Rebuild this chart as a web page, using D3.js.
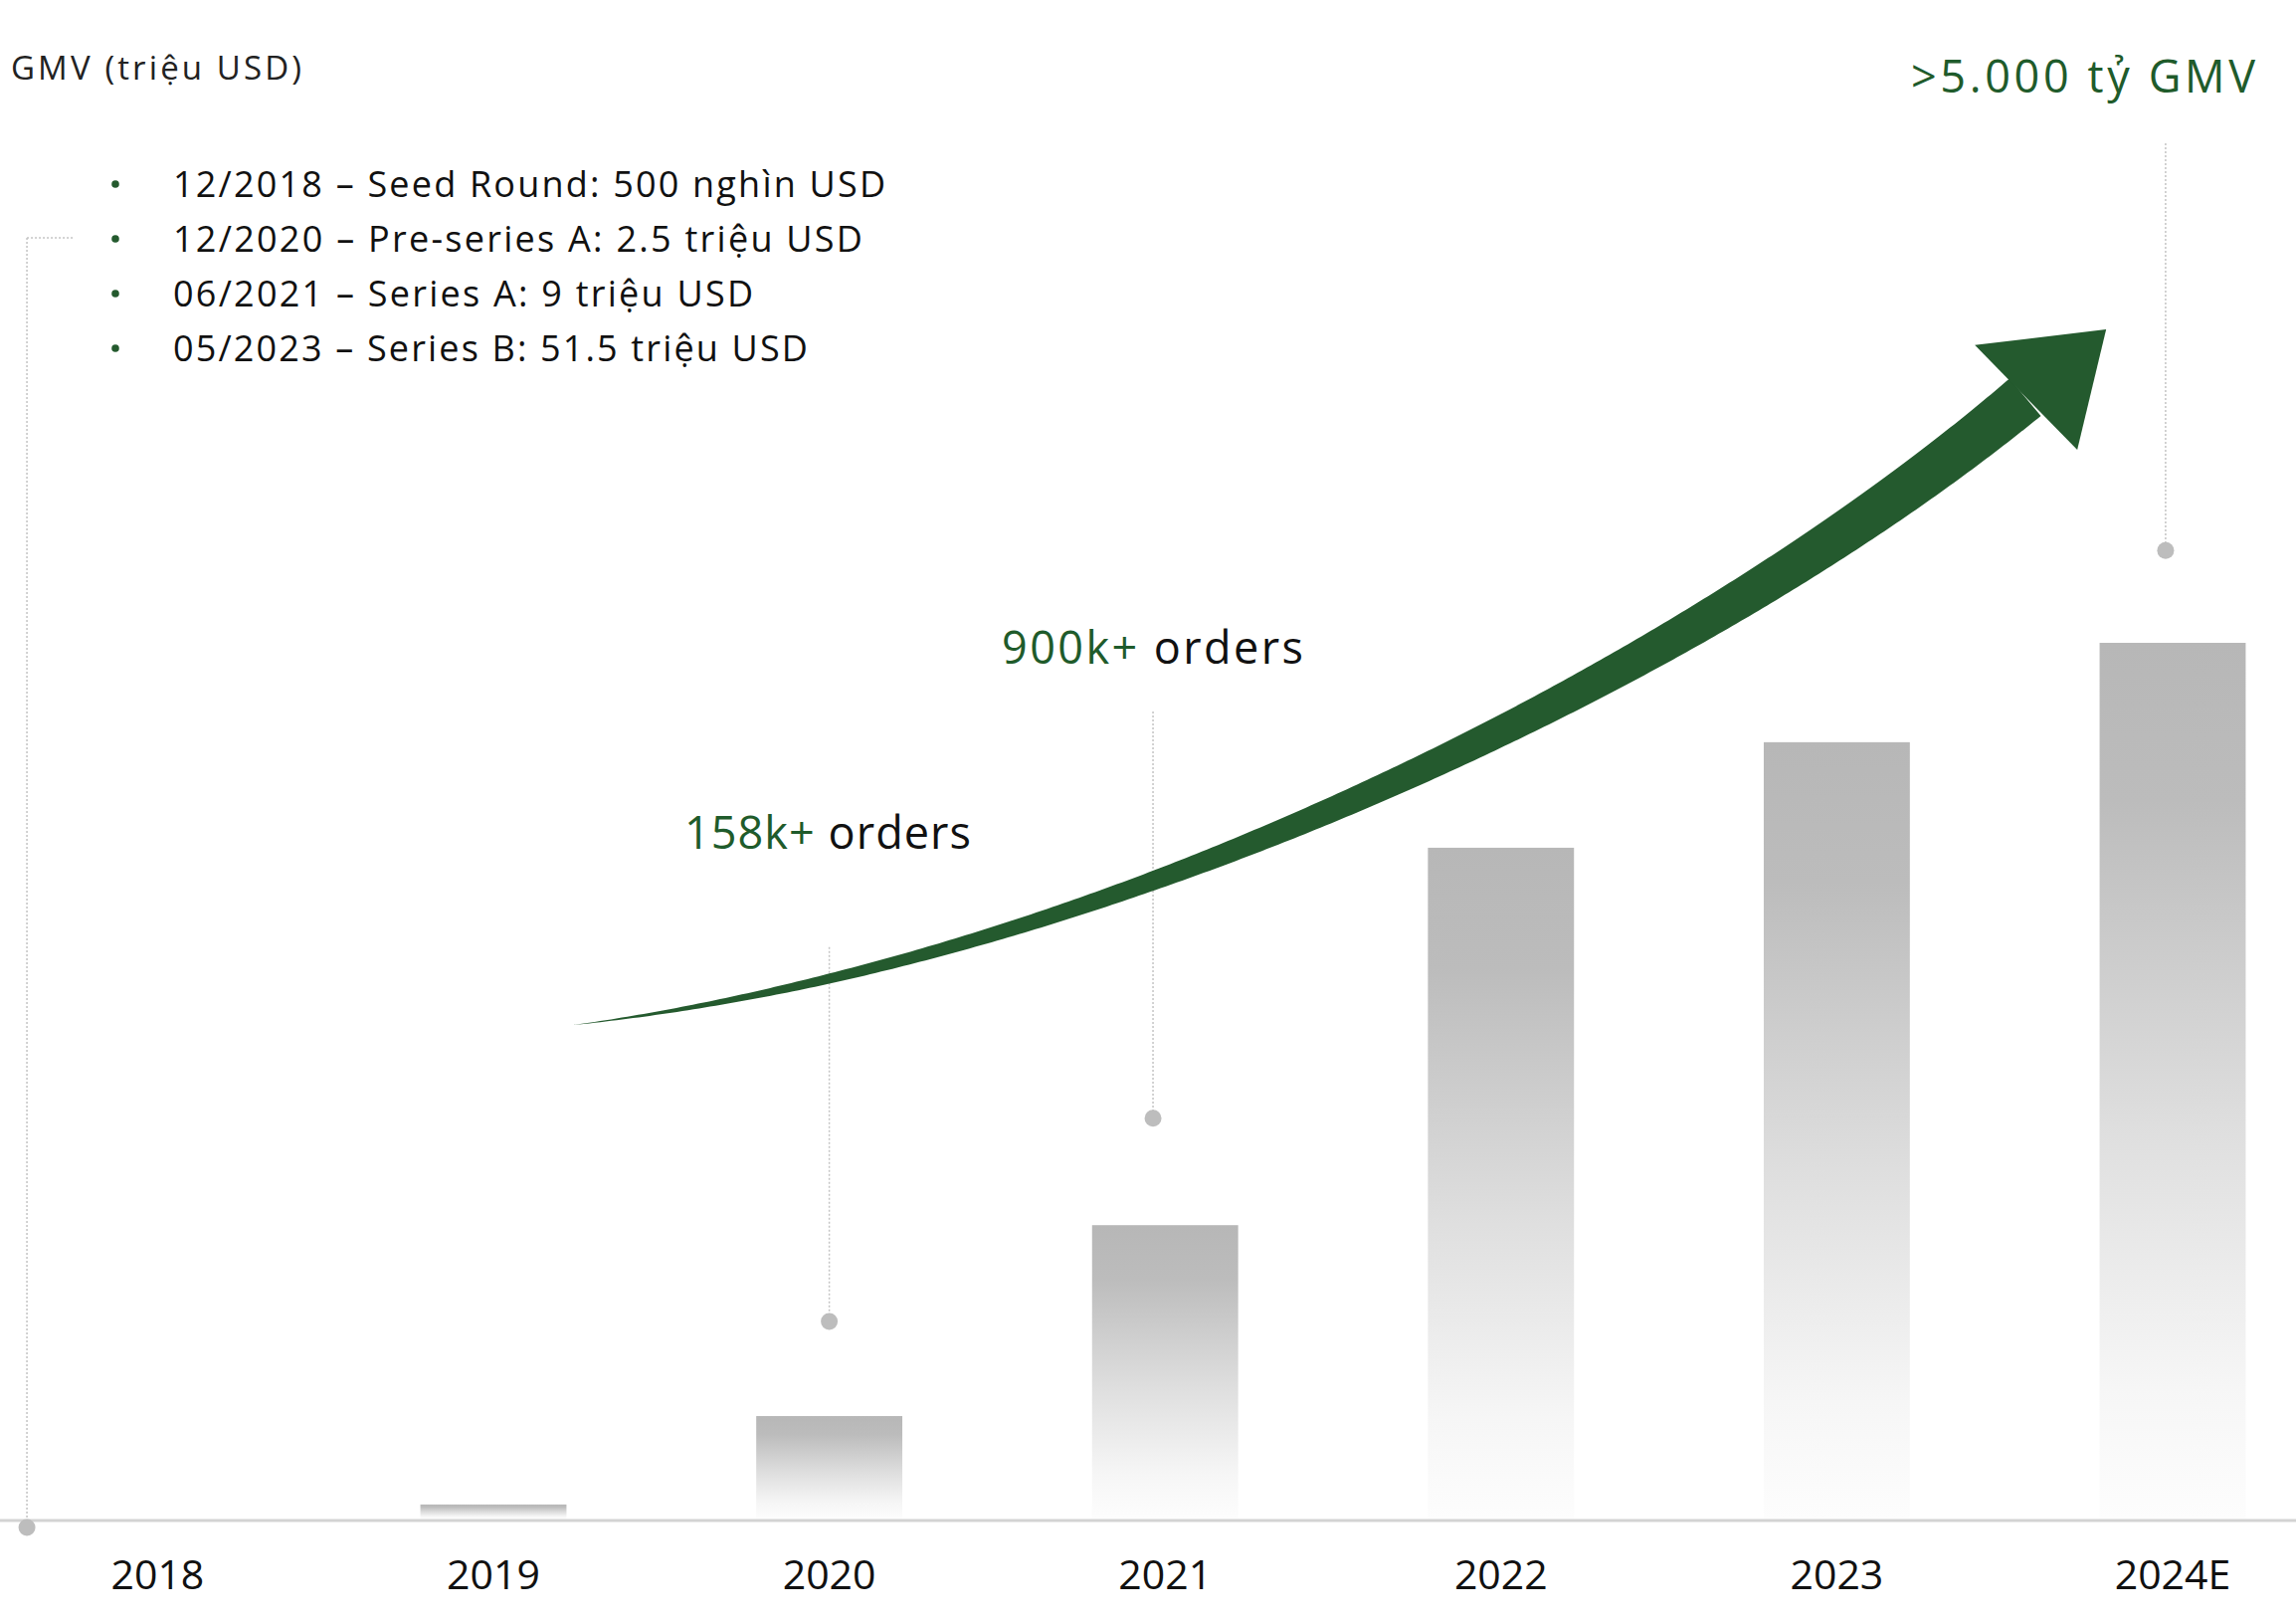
<!DOCTYPE html>
<html><head><meta charset="utf-8">
<script src="https://cdn.jsdelivr.net/npm/d3@7"></script>
<style>html,body{margin:0;padding:0;background:#fff;} svg{display:block}</style>
</head><body>
<svg id="chart" width="2308" height="1630"></svg>
<script>
// ---------- data ----------
const categories = ["2018", "2019", "2020", "2021", "2022", "2023", "2024E"];
const gmvValues = [0, 3.2, 23.4, 67, 153.2, 177.3, 200];
const yAxisTitle = "GMV (triệu USD)";
const fundingRounds = [
  "12/2018 – Seed Round: 500 nghìn USD",
  "12/2020 – Pre-series A: 2.5 triệu USD",
  "06/2021 – Series A: 9 triệu USD",
  "05/2023 – Series B: 51.5 triệu USD"
];
const orderNumbers = ["158k+", "900k+"];
const orderWords = [" orders", " orders"];
const headline = ">5.000 tỷ GMV";
// callout leaders in (category index, value) space
const leaderIndex = [-0.389, 2.0, 2.964, 5.979];
const leaderTop = [292.5, 130.5, 184.3, 314.1];
const leaderDot = [-2.05, 45, 91.4, 221.1];
// growth arrow: cubic Bezier spine in (category index, value) space
const arrowCtrlIdx = [1.237, 2.854, 4.608, 5.561];
const arrowCtrlVal = [112.7, 127.7, 194.8, 256.1];
const arrowWidthIdx = [1.237, 2.001, 2.961, 3.974, 4.714, 5.561];
const arrowWidthPx = [0, 10, 19, 30, 39, 49];
const arrowHeadIdx = [5.411, 5.802, 5.716];
const arrowHeadVal = [268.0, 271.6, 244.1];

// ---------- setup ----------
const W = 2308, H = 1630;
const GREEN = "#245a2e", TEXT_GREEN = "#1f5b2b";
const FONT = "'Open Sans', Lato, sans-serif";
const svg = d3.select("#chart");
svg.append("rect").attr("width", W).attr("height", H).attr("fill", "#fff");

const x = d3.scaleBand().domain(categories).range([-10.4, 2352.8])
  .paddingInner(0.565).paddingOuter(0.2825);
const xIdx = d3.scaleLinear().domain([0, categories.length - 1])
  .range([x(categories[0]) + x.bandwidth() / 2, x(categories[categories.length - 1]) + x.bandwidth() / 2]);
const y = d3.scaleLinear().domain([0, 200]).range([1526, 646]);

function fit(sel, target) {
  const n = sel.node();
  const w = n.getComputedTextLength();
  const chars = n.textContent.length;
  if (chars > 1) sel.attr("letter-spacing", ((target - w) / (chars - 1)).toFixed(3));
  return sel;
}

// gradient
const defs = svg.append("defs");
const grad = defs.append("linearGradient").attr("id", "barGrad")
  .attr("x1", 0).attr("y1", 0).attr("x2", 0).attr("y2", 1);
[[0, "#b7b7b7"], [0.18, "#bcbcbc"], [0.55, "#dedede"], [0.85, "#f6f6f6"], [1, "#fdfdfd"]]
  .forEach(([o, c]) => grad.append("stop").attr("offset", o).attr("stop-color", c));

// bars
svg.append("g").selectAll("rect").data(categories.map((c, i) => ({c, v: gmvValues[i]})).filter(d => d.v > 0))
  .join("rect")
  .attr("x", d => x(d.c)).attr("width", x.bandwidth())
  .attr("y", d => y(d.v)).attr("height", d => y(0) - y(d.v))
  .attr("fill", "url(#barGrad)");

// baseline axis
const xAxis = d3.axisBottom(x).tickSize(0).tickPadding(0);
const gx = svg.append("g").attr("transform", `translate(0,${y(0) + 2})`).call(xAxis);
gx.select(".domain").attr("d", `M0,0H${W}`).attr("stroke", "#d3d3d3").attr("stroke-width", 3);
gx.selectAll(".tick text").attr("y", 69).attr("dy", 0)
  .attr("font-family", FONT).attr("font-size", 41).attr("fill", "#111");

// leaders
const leaders = svg.append("g");
leaderIndex.forEach((li, i) => {
  const lx = xIdx(li);
  leaders.append("line").attr("x1", lx).attr("x2", lx)
    .attr("y1", y(leaderTop[i])).attr("y2", y(leaderDot[i]))
    .attr("stroke", "#c4c4c4").attr("stroke-width", 1.5).attr("stroke-dasharray", "2,2");
  leaders.append("circle").attr("cx", lx).attr("cy", y(leaderDot[i])).attr("r", 8.5).attr("fill", "#bdbdbd");
});
leaders.append("line").attr("x1", xIdx(leaderIndex[0])).attr("x2", xIdx(leaderIndex[0]) + 46)
  .attr("y1", y(leaderTop[0])).attr("y2", y(leaderTop[0]))
  .attr("stroke", "#c4c4c4").attr("stroke-width", 1.5).attr("stroke-dasharray", "2,2");

// arrow
const cp = arrowCtrlIdx.map((v, i) => [xIdx(v), y(arrowCtrlVal[i])]);
const bez = (t) => {
  const u = 1 - t;
  const a = u * u * u, b = 3 * u * u * t, c = 3 * u * t * t, d = t * t * t;
  return [a * cp[0][0] + b * cp[1][0] + c * cp[2][0] + d * cp[3][0],
          a * cp[0][1] + b * cp[1][1] + c * cp[2][1] + d * cp[3][1]];
};
const bezD = (t) => {
  const u = 1 - t;
  const dx = 3 * u * u * (cp[1][0] - cp[0][0]) + 6 * u * t * (cp[2][0] - cp[1][0]) + 3 * t * t * (cp[3][0] - cp[2][0]);
  const dy = 3 * u * u * (cp[1][1] - cp[0][1]) + 6 * u * t * (cp[2][1] - cp[1][1]) + 3 * t * t * (cp[3][1] - cp[2][1]);
  const m = Math.hypot(dx, dy) || 1;
  return [dx / m, dy / m];
};
const widthAt = d3.scaleLinear().domain(arrowWidthIdx.map(v => xIdx(v))).range(arrowWidthPx).clamp(true);
const N = 300;
const left = [], right = [];
for (let k = 0; k <= N; k++) {
  const t = k / N;
  const p = bez(t), [dx, dy] = bezD(t);
  const w = widthAt(p[0]) / 2;
  left.push([p[0] - dy * w, p[1] + dx * w]);
  right.push([p[0] + dy * w, p[1] - dx * w]);
}
svg.append("path").attr("d", d3.line()(left.concat(right.reverse())) + "Z").attr("fill", GREEN);
const head = arrowHeadIdx.map((v, i) => [xIdx(v), y(arrowHeadVal[i])]);
svg.append("path").attr("d", d3.line()(head) + "Z").attr("fill", GREEN);

// y axis title
fit(svg.append("text").attr("x", 11).attr("y", 80).text(yAxisTitle)
  .attr("font-family", FONT).attr("font-size", 33).attr("fill", "#222"), 292);

// funding list
const fundingWidths = [716, 693, 583, 638];
const fl = svg.append("g");
fundingRounds.forEach((t, i) => {
  const by = 198 + i * 55;
  fl.append("circle").attr("cx", 116).attr("cy", by - 13).attr("r", 3.8).attr("fill", GREEN);
  fit(fl.append("text").attr("x", 174).attr("y", by).text(t)
    .attr("font-family", FONT).attr("font-size", 36).attr("fill", "#111"), fundingWidths[i]);
});

// order labels
const orderBase = [853, 667];
const orderLeft = [688, 1007];
const orderWidths = [288, 303];
orderNumbers.forEach((n, i) => {
  const t = svg.append("text").attr("x", orderLeft[i]).attr("y", orderBase[i])
    .attr("font-family", FONT).attr("font-size", 45);
  t.append("tspan").attr("fill", TEXT_GREEN).text(n);
  t.append("tspan").attr("fill", "#111").text(orderWords[i]);
  fit(t, orderWidths[i]);
});

// headline
fit(svg.append("text").attr("x", 1921).attr("y", 93)
  .attr("font-family", FONT).attr("font-size", 45).attr("fill", TEXT_GREEN).text(headline), 346);
</script>
</body></html>
